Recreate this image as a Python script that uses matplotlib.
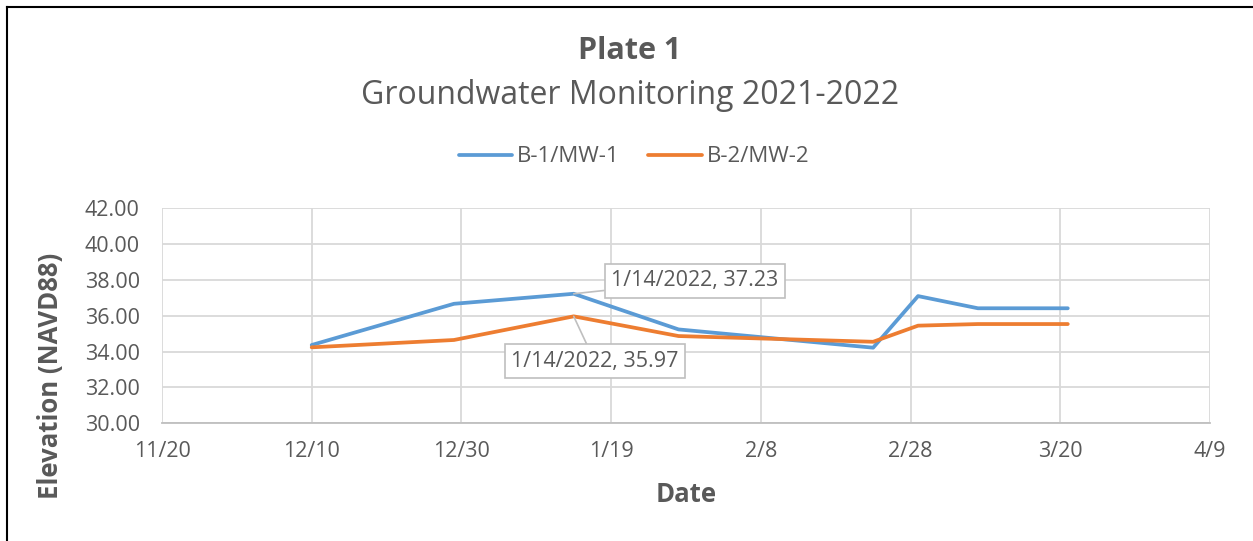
import matplotlib
matplotlib.use("Agg")
import matplotlib.pyplot as plt
from matplotlib.lines import Line2D
import datetime as dt

plt.rcParams['font.family'] = ['Open Sans', 'DejaVu Sans']

dates = ["2021-12-10", "2021-12-29", "2022-01-14", "2022-01-28",
         "2022-02-23", "2022-03-01", "2022-03-09", "2022-03-21"]
mw1 = [34.37, 36.67, 37.23, 35.24, 34.22, 37.10, 36.42, 36.42]
mw2 = [34.24, 34.65, 35.97, 34.87, 34.55, 35.45, 35.54, 35.54]
series_names = ["B-1/MW-1", "B-2/MW-2"]
tick_dates = ["2021-11-20", "2021-12-10", "2021-12-30", "2022-01-19",
              "2022-02-08", "2022-02-28", "2022-03-20", "2022-04-09"]
tick_labels = ["11/20", "12/10", "12/30", "1/19", "2/8", "2/28", "3/20", "4/9"]
y_ticks = [30, 32, 34, 36, 38, 40, 42]
label_date = "2022-01-14"

to_d = lambda s: dt.datetime.strptime(s, "%Y-%m-%d")
x = [to_d(d) for d in dates]
xt = [to_d(d) for d in tick_dates]

W, H = 1253, 541
fig = plt.figure(figsize=(W / 100, H / 100), dpi=100)
ax = fig.add_axes([162 / W, 1 - 423.3 / H, (1210 - 162) / W, (423.3 - 208.3) / H])

TXT = "#595959"
GRID = "#D9D9D9"
BLUE = "#5B9BD5"
ORANGE = "#ED7D31"

ax.plot(x, mw1, color=BLUE, lw=2.7, solid_capstyle='round', zorder=3)
ax.plot(x, mw2, color=ORANGE, lw=2.7, solid_capstyle='round', zorder=3)

ax.set_xlim(xt[0], xt[-1])
ax.set_ylim(y_ticks[0], y_ticks[-1])
ax.set_xticks(xt)
ax.set_xticklabels(tick_labels)
ax.set_yticks(y_ticks)
ax.set_yticklabels([f"{v:.2f}" for v in y_ticks])
ax.grid(True, color=GRID, lw=1.3, zorder=0)
for s in ["top", "right", "left"]:
    ax.spines[s].set_visible(False)
ax.spines["bottom"].set_color("#BFBFBF")
ax.spines["bottom"].set_linewidth(1.3)
ax.tick_params(axis='both', length=0, labelsize=15.5, labelcolor=TXT)
ax.tick_params(axis='x', pad=13)
ax.tick_params(axis='y', pad=16)

# data labels
xi = dates.index(label_date)
bbox = dict(boxstyle="square,pad=0.3", fc="white", ec="#BFBFBF", lw=1.2)
ax.annotate(f"1/14/2022, {mw1[xi]:.2f}", xy=(x[xi], mw1[xi]), xytext=(121, 13),
            textcoords='offset pixels', ha='center', va='center', fontsize=15.5,
            color=TXT, bbox=bbox, zorder=5,
            arrowprops=dict(arrowstyle='-', color="#BFBFBF", lw=1.2,
                            shrinkA=0, shrinkB=0))
ax.annotate(f"1/14/2022, {mw2[xi]:.2f}", xy=(x[xi], mw2[xi]), xytext=(21, -45),
            textcoords='offset pixels', ha='center', va='center', fontsize=15.5,
            color=TXT, bbox=bbox, zorder=5,
            arrowprops=dict(arrowstyle='-', color="#BFBFBF", lw=1.2,
                            shrinkA=0, shrinkB=0))

# titles
fig.text(630 / W, 1 - 51 / H, "Plate 1", ha='center', va='center',
         fontsize=22, fontweight='bold', color=TXT)
fig.text(630 / W, 1 - 96 / H, "Groundwater Monitoring 2021-2022", ha='center',
         va='center', fontsize=23, color=TXT)
fig.text(686 / W, 1 - 495 / H, "Date", ha='center', va='center',
         fontsize=18.5, fontweight='bold', color=TXT)
fig.text(51 / W, 1 - 376 / H, "Elevation (NAVD88)", ha='center', va='center',
         rotation=90, fontsize=18.5, fontweight='bold', color=TXT)

handles = [Line2D([], [], color=BLUE, lw=2.7, solid_capstyle='round'),
           Line2D([], [], color=ORANGE, lw=2.7, solid_capstyle='round')]
fig.legend(handles, series_names, loc='center', bbox_to_anchor=(634 / W, 1 - 157 / H),
           ncol=2, frameon=False, fontsize=16, labelcolor=TXT,
           handlelength=2.4, handletextpad=0.22, columnspacing=1.3)

# frame border (top and left)
fig.add_artist(Line2D([7 / W, 7 / W], [0, 1 - 7 / H], color='black', lw=1.5,
                      transform=fig.transFigure))
fig.add_artist(Line2D([7 / W, 1], [1 - 7 / H, 1 - 7 / H], color='black', lw=1.5,
                      transform=fig.transFigure))

fig.savefig("out.png", dpi=100, facecolor='white')
